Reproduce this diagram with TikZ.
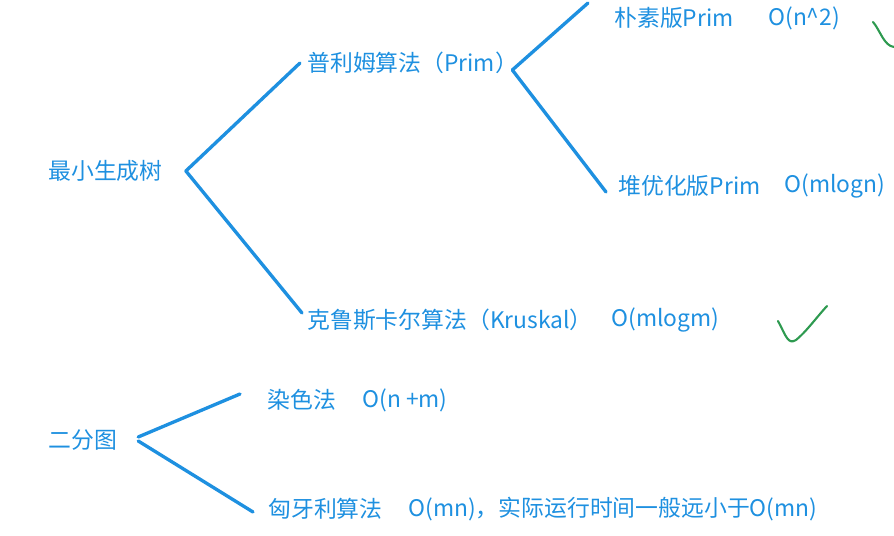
\documentclass[tikz,border=0pt]{standalone}
\usepackage{fontspec}
\setmainfont{Noto Sans CJK SC}
\usetikzlibrary{positioning}
\definecolor{treeblue}{HTML}{1E90E0}
\definecolor{checkgreen}{HTML}{2E9A50}

\begin{document}
\begin{tikzpicture}[
    x=0.02cm, y=-0.02cm,
    algo/.style={font=\fontsize{13}{15}\selectfont, text=treeblue, anchor=west, inner sep=0pt},
    branch/.style={draw=treeblue, line width=1.9pt, line cap=round},
    tickmark/.style={draw=checkgreen, line width=1.2pt, line cap=round, line join=round},
]
\useasboundingbox (0,0) rectangle (894,536);

% Minimum spanning tree
\node[algo] (mst) at (48,171) {最小生成树};
\node[algo] (prim) at (307,63) {普利姆算法（Prim）};
\node[algo] (naive) at (614,18) {朴素版Prim};
\node[algo] (naivecost) at (768,18) {O(n\textasciicircum 2)};
\node[algo] (heap) at (618,186) {堆优化版Prim};
\node[algo] (heapcost) at (784,186) {O(mlogn)};
\node[algo] (kruskal) at (307,320) {克鲁斯卡尔算法（Kruskal）};
\node[algo] (kruskalcost) at (611,320) {O(mlogm)};

\draw[branch] ([xshift=0.46cm]mst.east) -- ([xshift=-0.14cm]prim.west);
\draw[branch] ([xshift=0.46cm]mst.east) -- ([xshift=-0.1cm, yshift=0.14cm]kruskal.west);
\draw[branch] ([xshift=-0.12cm, yshift=-0.14cm]prim.east) -- ([xshift=-0.52cm, yshift=0.3cm]naive.west);
\draw[branch] ([xshift=-0.12cm, yshift=-0.14cm]prim.east) -- ([xshift=-0.24cm, yshift=-0.12cm]heap.west);

% Bipartite graph
\node[algo] (bip) at (48,440) {二分图};
\node[algo] (color) at (267,400) {染色法};
\node[algo] (colorcost) at (362,400) {O(n +m)};
\node[algo] (hung) at (268,509) {匈牙利算法};
\node[algo] (hungcost) at (408,509) {O(mn)，实际运行时间一般远小于O(mn)};

\draw[branch] ([xshift=0.42cm, yshift=0.06cm]bip.east) -- ([xshift=-0.54cm, yshift=0.12cm]color.west);
\draw[branch] ([xshift=0.42cm, yshift=-0.02cm]bip.east) -- ([xshift=-0.3cm, yshift=-0.06cm]hung.west);

% Hand-drawn ticks
\draw[tickmark] (778,321) .. controls (786,336) and (788,345) .. (796,340)
  .. controls (806,332) and (816,318) .. (827,306);
\draw[tickmark] (873,22) .. controls (880,30) and (884,46) .. (894,47);

\end{tikzpicture}
\end{document}
